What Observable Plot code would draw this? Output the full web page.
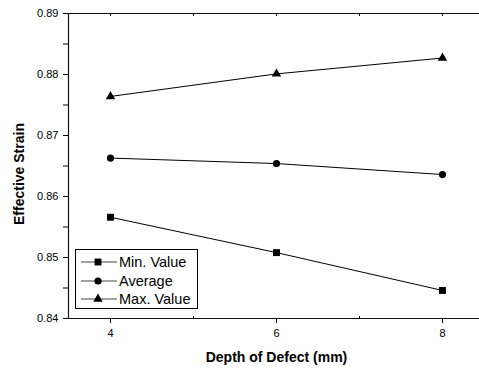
<!DOCTYPE html>
<html><head><meta charset="utf-8">
<script src="https://cdn.jsdelivr.net/npm/d3@7"></script>
<script src="https://cdn.jsdelivr.net/npm/@observablehq/plot@0.6"></script>
<style>
body{margin:0;background:#fff;}
#wrap{position:relative;width:479px;height:370px;overflow:hidden;font-family:"Liberation Sans",Arial,sans-serif;}
#legend{position:absolute;left:75px;top:249px;width:123px;height:60px;border:1px solid #000;background:#fff;box-sizing:border-box;padding-top:3px;}
.row{display:flex;align-items:center;height:18.5px;}
.row svg{margin-left:5px;margin-right:2px;}
.row span{font-size:14.5px;color:#000;line-height:18.5px;}
</style>
</head><body>
<div id="wrap"></div>
<script>
const depths = [4, 6, 8];
const minValue = [0.8566, 0.8508, 0.8446];
const average = [0.8663, 0.8654, 0.8636];
const maxValue = [0.8764, 0.8801, 0.8827];
const seriesNames = ["Min. Value", "Average", "Max. Value"];
const seriesSymbols = ["square", "circle", "triangle"];
const yTicks = [0.84, 0.85, 0.86, 0.87, 0.88, 0.89];
const yMinorTicks = [0.845, 0.855, 0.865, 0.875, 0.885];
const xTicks = [4, 6, 8];
const xMinorTicks = [5, 7];
const xTopTicks = [4, 5, 6, 7, 8];
const xLabel = "Depth of Defect (mm)";
const yLabel = "Effective Strain";

const seriesValues = [minValue, average, maxValue];
const data = [];
seriesValues.forEach((vals, i) => vals.forEach((v, j) => data.push({series: seriesNames[i], depth: depths[j], strain: v})));
const rFor = {"Min. Value": 3.9, "Average": 3.6, "Max. Value": 3.5};

const chart = Plot.plot({
  width: 479, height: 370,
  marginLeft: 68, marginTop: 13, marginBottom: 52, marginRight: 0,
  style: {fontFamily: "Liberation Sans, Arial, sans-serif", fontSize: "11px", color: "#000", background: "#fff"},
  x: {domain: [3.494, 8.446]},
  y: {domain: [0.84, 0.89]},
  symbol: {domain: seriesNames, range: seriesSymbols},
  marks: [
    Plot.frame({anchor: "left", stroke: "#111", strokeWidth: 1.2}),
    Plot.frame({anchor: "top", stroke: "#111", strokeWidth: 1.2}),
    Plot.frame({anchor: "bottom", stroke: "#111", strokeWidth: 1.2}),
    Plot.axisY({ticks: yTicks, tickFormat: ".2f", tickSize: 5, tickPadding: 5, label: null, fontSize: 11}),
    Plot.axisY({ticks: yMinorTicks, tickFormat: () => "", tickSize: 5, label: null}),
    Plot.axisX({ticks: xTicks, tickFormat: "d", tickSize: 5, tickPadding: 6, label: null, fontSize: 11}),
    Plot.axisX({ticks: xMinorTicks, tickFormat: () => "", tickSize: -2, label: null}),
    Plot.axisX({anchor: "top", ticks: xTopTicks, tickFormat: () => "", tickSize: -2, label: null}),
    Plot.line(data, {x: "depth", y: "strain", z: "series", stroke: "#000", strokeWidth: 1}),
    ...seriesNames.map(s => Plot.dot(data.filter(d => d.series === s), {x: "depth", y: "strain", symbol: "series", r: rFor[s], fill: "#000", stroke: "none"})),
    Plot.text([yLabel], {frameAnchor: "left", textAnchor: "middle", lineAnchor: "middle", rotate: -90, dx: -49, dy: 8, fontSize: 14, fontWeight: "bold"}),
    Plot.text([xLabel], {frameAnchor: "bottom", textAnchor: "middle", lineAnchor: "middle", dx: 2.5, dy: 39, fontSize: 14, fontWeight: "bold"})
  ]
});
const wrap = document.getElementById("wrap");
wrap.appendChild(chart);

const legend = d3.select(wrap).append("div").attr("id", "legend");
seriesNames.forEach((name, i) => {
  const row = legend.append("div").attr("class", "row");
  const svg = row.append("svg").attr("width", 36).attr("height", 18);
  svg.append("line").attr("x1", 0).attr("x2", 36).attr("y1", 9).attr("y2", 9).attr("stroke", "#444").attr("stroke-width", 1);
  const sym = {square: d3.symbolSquare, circle: d3.symbolCircle, triangle: d3.symbolTriangle}[seriesSymbols[i]];
  const r = rFor[name];
  svg.append("path").attr("d", d3.symbol(sym, Math.PI * r * r)()).attr("transform", "translate(17,9)").attr("fill", "#000");
  row.append("span").text(name);
});
</script>
</body></html>
